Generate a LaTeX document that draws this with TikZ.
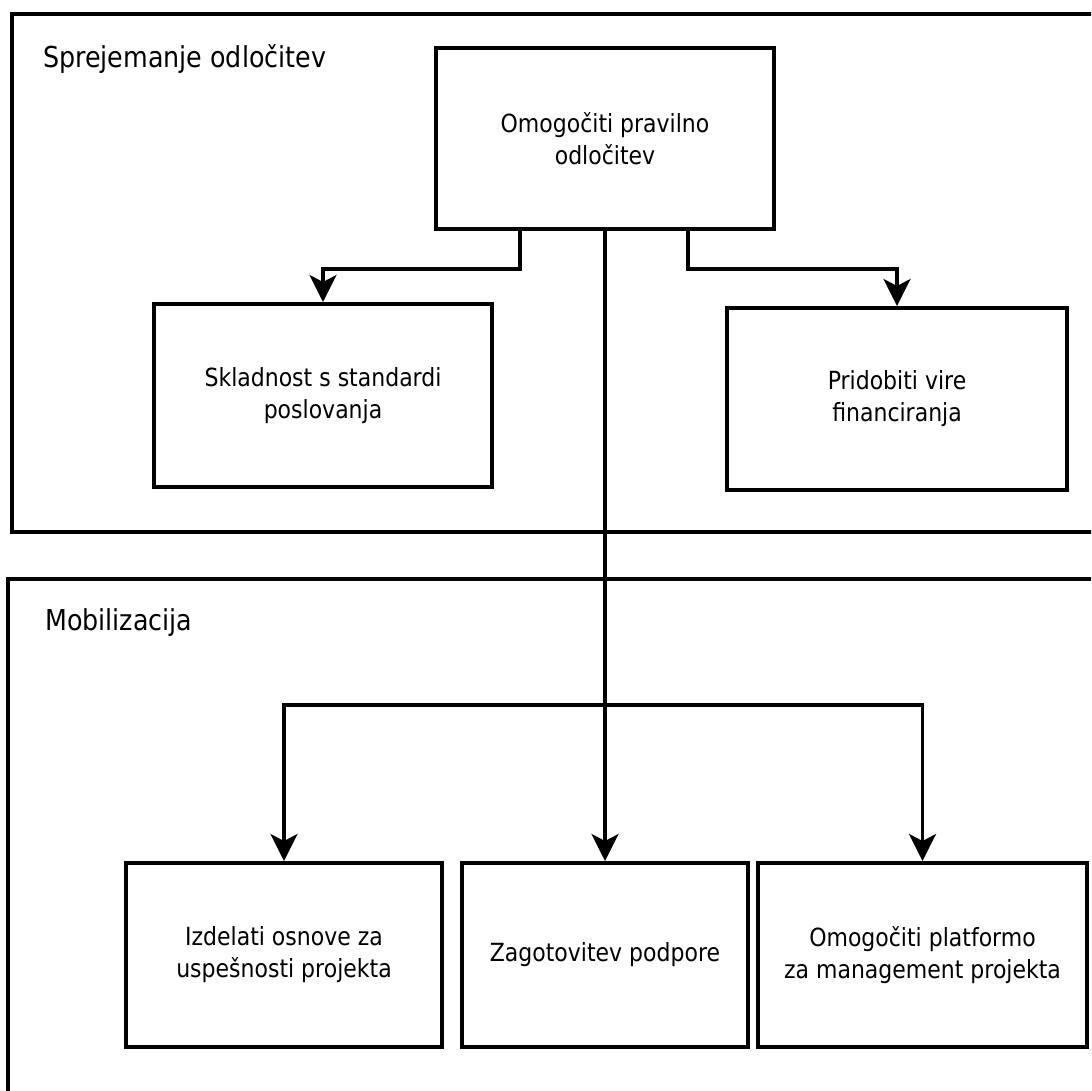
\documentclass[tikz,border=0pt]{standalone}
\usepackage{fontspec}
\setmainfont{DejaVu Sans}[FakeStretch=0.88]
\usetikzlibrary{arrows.meta,positioning}
\newcommand{\boxfont}{\fontsize{25}{32}\selectfont}
\newcommand{\labelfont}{\fontsize{28.8}{34}\selectfont}
\tikzset{
  box/.style={draw, line width=4pt, align=center, font=\boxfont, inner sep=0pt},
  frame/.style={draw, line width=3.5pt},
  grouplabel/.style={anchor=base west, font=\labelfont, inner sep=0pt},
  link/.style={line width=3.5pt},
  arrow/.style={link, -{Stealth[length=27pt,width=27pt,inset=7pt]}}
}
\begin{document}
\begin{tikzpicture}[x=1pt, y=-1pt]
\useasboundingbox (0,0) rectangle (1091,1091);
\clip (0,0) rectangle (1091,1091);
% groups
\draw[frame] (12,14) rectangle (1120,532);
\draw[frame] (8,579) rectangle (1120,1120);
\node[grouplabel] (lbldec) at (43,68) {Sprejemanje odločitev};
\node[grouplabel] (lblmob) at (45,630) {Mobilizacija};
% boxes
\node[box, minimum width=338pt, minimum height=181pt] (dec) at (605,138.5) {Omogočiti pravilno\\odločitev};
\node[box, minimum width=338pt, minimum height=183pt] (skl) at (323,395.5) {Skladnost s standardi\\poslovanja};
\node[box, minimum width=340pt, minimum height=182pt] (pvf) at (897,399) {Pridobiti vire\\financiranja};
\node[box, minimum width=286pt, minimum height=184pt] (zag) at (605,955) {Zagotovitev podpore};
\node[box, minimum width=316pt, minimum height=184pt, left=16pt of zag] (izd) {Izdelati osnove za\\uspešnosti projekta};
\node[box, minimum width=329pt, minimum height=184pt, right=6pt of zag] (omp) {Omogočiti platformo\\za management projekta};
% connectors
\coordinate (junc) at (605,705);
\draw[arrow] ([xshift=-85pt]dec.south) -- ++(0,38) -| (skl.north);
\draw[arrow] ([xshift=83pt]dec.south) -- ++(0,38) -| (pvf.north);
\draw[link] (dec.south) -- (junc);
\draw[arrow] (junc) -| (izd.north);
\draw[arrow] (junc) -- (zag.north);
\draw[arrow] (junc) -| (omp.north);
\end{tikzpicture}
\end{document}
